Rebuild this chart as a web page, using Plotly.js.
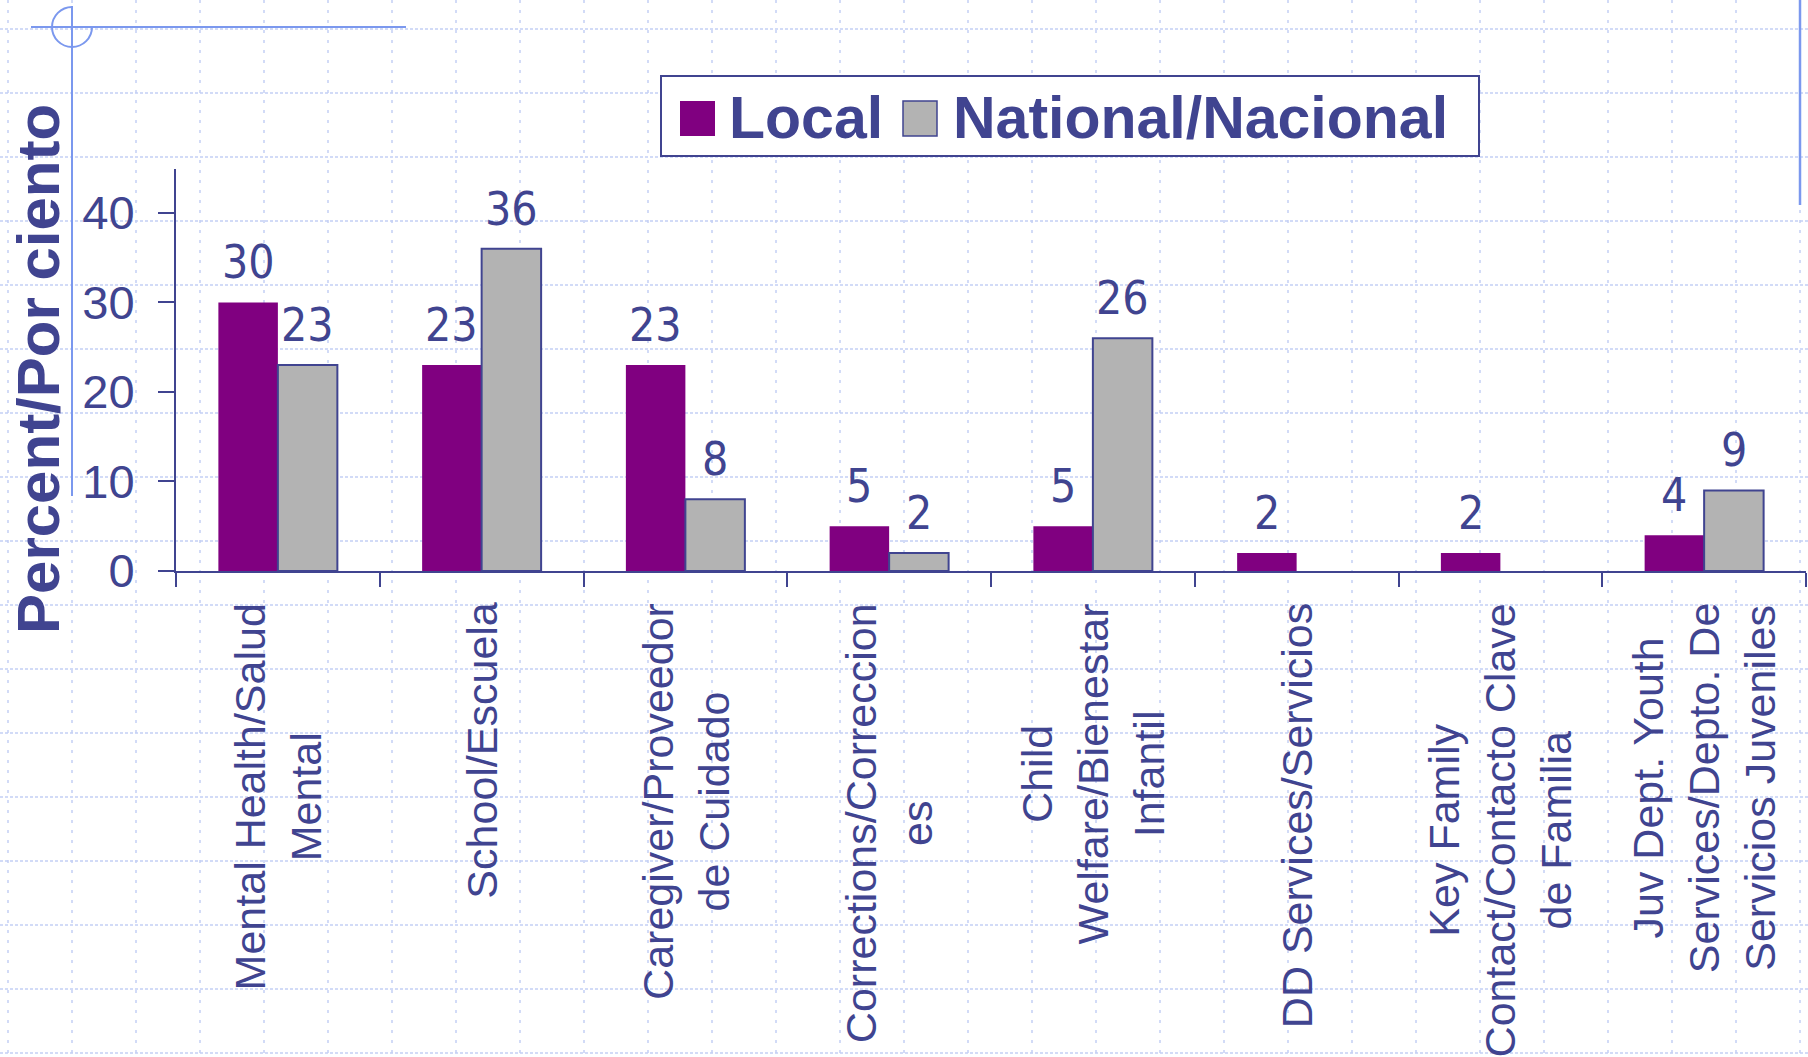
<!DOCTYPE html>
<html>
<head>
<meta charset="utf-8">
<script src="https://cdn.plot.ly/plotly-3.0.1.min.js"></script>
<style>
  html, body { margin: 0; padding: 0; background: #ffffff; }
  #chart { width: 1808px; height: 1057px; }
</style>
</head>
<body>
<div id="chart"></div>
<script>
// ---- data ----
const categories = [
  "Mental Health/Salud Mental",
  "School/Escuela",
  "Caregiver/Proveedor de Cuidado",
  "Corrections/Correcciones",
  "Child Welfare/Bienestar Infantil",
  "DD Services/Servicios",
  "Key Family Contact/Contacto Clave de Familia",
  "Juv Dept. Youth Services/Depto. De Servicios Juveniles"
];
const tickLabels = [
  "Mental Health/Salud<br>Mental",
  "School/Escuela",
  "Caregiver/Proveedor<br>de Cuidado",
  "Corrections/Correccion<br>es",
  "Child<br>Welfare/Bienestar<br>Infantil",
  "DD Services/Servicios",
  "Key Family<br>Contact/Contacto Clave<br>de Familia",
  "Juv Dept. Youth<br>Services/Depto. De<br>Servicios Juveniles"
];
const localValues    = [30, 23, 23, 5, 5, 2, 2, 4];
const nationalValues = [23, 36, 8, 2, 26, null, null, 9];
const seriesNames = ["Local", "National/Nacional"];
const yTickVals = [0, 10, 20, 30, 40];
const yAxisTitle = "Percent/Por ciento";

// ---- styles ----
const INK = "#404490";
const PURPLE = "#800080";
const GREY = "#B3B3B3";
const GRID = "#C3CFF5";
const DECOR = "#7B98EE";
const SANS = '"Liberation Sans", Arial, sans-serif';
const NARROW = '"Liberation Sans Narrow", "Arial Narrow", "DejaVu Sans Condensed", sans-serif';

// plot area in page pixels
const L = 176, R = 1806, T = 169, B = 571;
const W = R - L, H = B - T;
const px = x => (x - L) / W;
const py = y => (B - y) / H;

const shapes = [];
// dotted background grid
for (let x = 8; x <= 1808; x += 64) {
  shapes.push({type: "line", xref: "paper", yref: "paper", layer: "below",
    x0: px(x), x1: px(x), y0: py(0), y1: py(1057),
    line: {color: GRID, width: 1.5, dash: "3px,7px"}});
}
for (let y = 29; y <= 1057; y += 64) {
  shapes.push({type: "line", xref: "paper", yref: "paper", layer: "below",
    x0: px(0), x1: px(1808), y0: py(y), y1: py(y),
    line: {color: GRID, width: 1.5, dash: "3px,2px"}});
}
// slide decorations
shapes.push({type: "line", xref: "paper", yref: "paper", layer: "below",
  x0: px(31), x1: px(406), y0: py(27), y1: py(27), line: {color: DECOR, width: 2}});
shapes.push({type: "line", xref: "paper", yref: "paper", layer: "below",
  x0: px(72), x1: px(72), y0: py(6), y1: py(496), line: {color: DECOR, width: 2}});
shapes.push({type: "line", xref: "paper", yref: "paper", layer: "below",
  x0: px(1800), x1: px(1800), y0: py(0), y1: py(205), line: {color: DECOR, width: 2.5}});
(function () {
  const cx = 72, cy = 27, r = 20, k = 0.5523 * r;
  const P = (x, y) => px(x) + "," + py(y);
  const path = "M" + P(cx, cy - r) +
    " C" + P(cx - k, cy - r) + " " + P(cx - r, cy - k) + " " + P(cx - r, cy) +
    " C" + P(cx - r, cy + k) + " " + P(cx - k, cy + r) + " " + P(cx, cy + r) +
    " C" + P(cx + k, cy + r) + " " + P(cx + r, cy + k) + " " + P(cx + r, cy);
  shapes.push({type: "path", xref: "paper", yref: "paper", layer: "below",
    path: path, line: {color: DECOR, width: 2}});
})();
// legend box and swatches
shapes.push({type: "rect", xref: "paper", yref: "paper", layer: "below",
  x0: px(661), x1: px(1479), y0: py(76), y1: py(156),
  fillcolor: "#ffffff", line: {color: INK, width: 2}});
shapes.push({type: "rect", xref: "paper", yref: "paper", layer: "below",
  x0: px(680), x1: px(715), y0: py(101), y1: py(136),
  fillcolor: PURPLE, line: {width: 0}});
shapes.push({type: "rect", xref: "paper", yref: "paper", layer: "below",
  x0: px(903), x1: px(937), y0: py(101), y1: py(136),
  fillcolor: GREY, line: {color: INK, width: 1.5}});

const annotations = [];
// legend text
annotations.push({xref: "paper", yref: "paper", x: px(727), y: py(118),
  xanchor: "left", yanchor: "middle", showarrow: false, text: seriesNames[0],
  font: {family: SANS, size: 59, color: INK, weight: "bold"}});
annotations.push({xref: "paper", yref: "paper", x: px(951), y: py(118),
  xanchor: "left", yanchor: "middle", showarrow: false, text: seriesNames[1],
  font: {family: SANS, size: 59, color: INK, weight: "bold"}});
// y-axis title
annotations.push({xref: "paper", yref: "paper", x: px(38), y: py(369),
  xanchor: "center", yanchor: "middle", showarrow: false, textangle: -90,
  text: yAxisTitle, font: {family: SANS, size: 60, color: INK, weight: "bold"}});
// category labels
categories.forEach((c, i) => {
  annotations.push({xref: "x", yref: "paper", x: c, y: py(601),
    xanchor: "center", yanchor: "top", showarrow: false, textangle: -90,
    align: "center", text: tickLabels[i],
    font: {family: SANS, size: 43, color: INK}});
});
// data labels
const groupHalf = 29.75;
categories.forEach((c, i) => {
  if (localValues[i] !== null) {
    annotations.push({xref: "x", yref: "y", x: c, y: localValues[i],
      xshift: -groupHalf, yshift: 40, xanchor: "center", yanchor: "middle",
      showarrow: false, text: String(localValues[i]),
      font: {family: NARROW, size: 46, color: INK}});
  }
  if (nationalValues[i] !== null) {
    annotations.push({xref: "x", yref: "y", x: c, y: nationalValues[i],
      xshift: groupHalf, yshift: 40, xanchor: "center", yanchor: "middle",
      showarrow: false, text: String(nationalValues[i]),
      font: {family: NARROW, size: 46, color: INK}});
  }
});

const traces = [
  {type: "bar", name: seriesNames[0], x: categories, y: localValues,
   marker: {color: PURPLE, line: {width: 0}}, hoverinfo: "skip"},
  {type: "bar", name: seriesNames[1], x: categories, y: nationalValues,
   marker: {color: GREY, line: {color: INK, width: 2}}, hoverinfo: "skip"}
];

const layout = {
  width: 1808, height: 1057,
  margin: {l: L, r: 1808 - R, t: T, b: 1057 - B, pad: 0},
  paper_bgcolor: "#ffffff",
  plot_bgcolor: "rgba(0,0,0,0)",
  showlegend: false,
  barmode: "group",
  bargap: 0.416,
  bargroupgap: 0,
  xaxis: {
    type: "category", showgrid: false, zeroline: false,
    showline: true, linecolor: INK, linewidth: 2,
    ticks: "outside", tickson: "boundaries", ticklen: 14, tickwidth: 2, tickcolor: INK,
    showticklabels: false, fixedrange: true
  },
  yaxis: {
    range: [0, 44.9], tickvals: yTickVals, showgrid: false, zeroline: false,
    showline: true, linecolor: INK, linewidth: 2,
    ticks: "outside", ticklen: 16, tickwidth: 2, tickcolor: INK,
    ticklabelstandoff: 14,
    tickfont: {family: SANS, size: 47, color: INK}, fixedrange: true
  },
  shapes: shapes,
  annotations: annotations
};

Plotly.newPlot("chart", traces, layout, {displayModeBar: false, staticPlot: true});
</script>
</body>
</html>
